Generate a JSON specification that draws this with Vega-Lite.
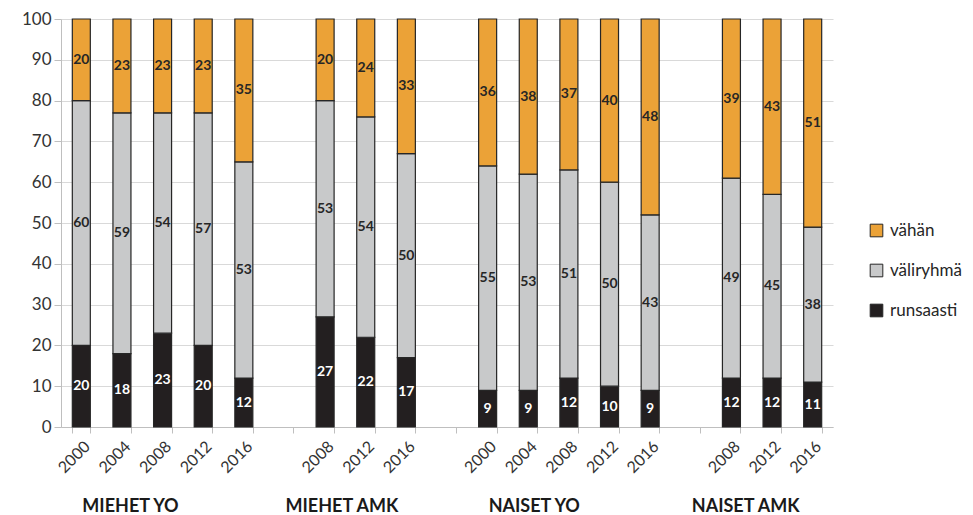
{
  "$schema": "https://vega.github.io/schema/vega-lite/v6.json",
  "width": 772,
  "height": 408,
  "autosize": {"type": "none"},
  "padding": {"left": 61, "top": 19, "right": 140, "bottom": 88},
  "background": "white",
  "config": {"font": "Lato", "view": {"stroke": null}},
  "data": {"values": [
    {"bar": "MIEHET YO 2000", "cat": "runsaasti", "v": 20}, {"bar": "MIEHET YO 2000", "cat": "väliryhmä", "v": 60}, {"bar": "MIEHET YO 2000", "cat": "vähän", "v": 20},
    {"bar": "MIEHET YO 2004", "cat": "runsaasti", "v": 18}, {"bar": "MIEHET YO 2004", "cat": "väliryhmä", "v": 59}, {"bar": "MIEHET YO 2004", "cat": "vähän", "v": 23},
    {"bar": "MIEHET YO 2008", "cat": "runsaasti", "v": 23}, {"bar": "MIEHET YO 2008", "cat": "väliryhmä", "v": 54}, {"bar": "MIEHET YO 2008", "cat": "vähän", "v": 23},
    {"bar": "MIEHET YO 2012", "cat": "runsaasti", "v": 20}, {"bar": "MIEHET YO 2012", "cat": "väliryhmä", "v": 57}, {"bar": "MIEHET YO 2012", "cat": "vähän", "v": 23},
    {"bar": "MIEHET YO 2016", "cat": "runsaasti", "v": 12}, {"bar": "MIEHET YO 2016", "cat": "väliryhmä", "v": 53}, {"bar": "MIEHET YO 2016", "cat": "vähän", "v": 35},
    {"bar": "MIEHET AMK 2008", "cat": "runsaasti", "v": 27}, {"bar": "MIEHET AMK 2008", "cat": "väliryhmä", "v": 53}, {"bar": "MIEHET AMK 2008", "cat": "vähän", "v": 20},
    {"bar": "MIEHET AMK 2012", "cat": "runsaasti", "v": 22}, {"bar": "MIEHET AMK 2012", "cat": "väliryhmä", "v": 54}, {"bar": "MIEHET AMK 2012", "cat": "vähän", "v": 24},
    {"bar": "MIEHET AMK 2016", "cat": "runsaasti", "v": 17}, {"bar": "MIEHET AMK 2016", "cat": "väliryhmä", "v": 50}, {"bar": "MIEHET AMK 2016", "cat": "vähän", "v": 33},
    {"bar": "NAISET YO 2000", "cat": "runsaasti", "v": 9}, {"bar": "NAISET YO 2000", "cat": "väliryhmä", "v": 55}, {"bar": "NAISET YO 2000", "cat": "vähän", "v": 36},
    {"bar": "NAISET YO 2004", "cat": "runsaasti", "v": 9}, {"bar": "NAISET YO 2004", "cat": "väliryhmä", "v": 53}, {"bar": "NAISET YO 2004", "cat": "vähän", "v": 38},
    {"bar": "NAISET YO 2008", "cat": "runsaasti", "v": 12}, {"bar": "NAISET YO 2008", "cat": "väliryhmä", "v": 51}, {"bar": "NAISET YO 2008", "cat": "vähän", "v": 37},
    {"bar": "NAISET YO 2012", "cat": "runsaasti", "v": 10}, {"bar": "NAISET YO 2012", "cat": "väliryhmä", "v": 50}, {"bar": "NAISET YO 2012", "cat": "vähän", "v": 40},
    {"bar": "NAISET YO 2016", "cat": "runsaasti", "v": 9}, {"bar": "NAISET YO 2016", "cat": "väliryhmä", "v": 43}, {"bar": "NAISET YO 2016", "cat": "vähän", "v": 48},
    {"bar": "NAISET AMK 2008", "cat": "runsaasti", "v": 12}, {"bar": "NAISET AMK 2008", "cat": "väliryhmä", "v": 49}, {"bar": "NAISET AMK 2008", "cat": "vähän", "v": 39},
    {"bar": "NAISET AMK 2012", "cat": "runsaasti", "v": 12}, {"bar": "NAISET AMK 2012", "cat": "väliryhmä", "v": 45}, {"bar": "NAISET AMK 2012", "cat": "vähän", "v": 43},
    {"bar": "NAISET AMK 2016", "cat": "runsaasti", "v": 11}, {"bar": "NAISET AMK 2016", "cat": "väliryhmä", "v": 38}, {"bar": "NAISET AMK 2016", "cat": "vähän", "v": 51}
  ]},
  "transform": [{"window": [{"op": "row_number", "as": "ord"}], "groupby": ["bar"]}],
  "layer": [
    {
      "mark": {"type": "bar", "stroke": "#262626", "strokeWidth": 1.2},
      "encoding": {
        "x": {
          "field": "bar", "type": "nominal",
          "scale": {"domain": ["MIEHET YO 2000", "MIEHET YO 2004", "MIEHET YO 2008", "MIEHET YO 2012", "MIEHET YO 2016", "gap1", "MIEHET AMK 2008", "MIEHET AMK 2012", "MIEHET AMK 2016", "gap2", "NAISET YO 2000", "NAISET YO 2004", "NAISET YO 2008", "NAISET YO 2012", "NAISET YO 2016", "gap3", "NAISET AMK 2008", "NAISET AMK 2012", "NAISET AMK 2016"], "paddingInner": 0.557, "paddingOuter": 0.2785},
          "axis": {"title": null, "orient": "bottom", "labelExpr": "isString(datum.value) && indexof(datum.value, 'gap') < 0 ? slice(datum.value, -4) : ''", "labelAngle": -45, "labelFontSize": 16, "labelColor": "#333333", "tickBand": "extent", "tickSize": 6, "domainColor": "#bfbfbf", "tickColor": "#bfbfbf", "labelPadding": 5, "labelOverlap": false, "grid": false}
        },
        "y": {
          "field": "v", "type": "quantitative", "stack": "zero",
          "scale": {"domain": [0, 100]},
          "axis": {"title": null, "values": [0, 10, 20, 30, 40, 50, 60, 70, 80, 90, 100], "grid": true, "gridColor": "#d9d9d9", "domainColor": "#bfbfbf", "tickColor": "#bfbfbf", "tickSize": 7, "labelFontSize": 17, "labelColor": "#333333", "labelPadding": 3}
        },
        "color": {
          "field": "cat", "type": "nominal",
          "scale": {"domain": ["vähän", "väliryhmä", "runsaasti"], "range": ["#EBA237", "#C8C9CA", "#231F20"]},
          "legend": {"title": null, "orient": "none", "legendX": 807, "legendY": 203, "padding": 0, "symbolType": "square", "symbolSize": 160, "symbolStrokeColor": "#262626", "symbolStrokeWidth": 1, "labelFontSize": 17, "labelColor": "#262626", "rowPadding": 22, "labelOffset": 5}
        },
        "order": {"field": "ord", "type": "quantitative"}
      }
    },
    {
      "mark": {"type": "text", "fontWeight": "bold", "fontSize": 14},
      "encoding": {
        "x": {
          "field": "bar", "type": "nominal",
          "scale": {"domain": ["MIEHET YO 2000", "MIEHET YO 2004", "MIEHET YO 2008", "MIEHET YO 2012", "MIEHET YO 2016", "gap1", "MIEHET AMK 2008", "MIEHET AMK 2012", "MIEHET AMK 2016", "gap2", "NAISET YO 2000", "NAISET YO 2004", "NAISET YO 2008", "NAISET YO 2012", "NAISET YO 2016", "gap3", "NAISET AMK 2008", "NAISET AMK 2012", "NAISET AMK 2016"], "paddingInner": 0.557, "paddingOuter": 0.2785},
          "axis": {"title": null, "orient": "bottom", "offset": 61, "domain": false, "ticks": false, "grid": false, "labelAngle": 0, "labelAlign": "left", "labelBaseline": "top", "labelPadding": 9, "labelFontSize": 18, "labelFontWeight": "bold", "labelColor": "#1a1a1a", "labelOverlap": false, "labelOffset": 1,
            "labelExpr": "datum.value === 'MIEHET YO 2000' ? 'MIEHET YO' : datum.value === 'gap1' ? 'MIEHET AMK' : datum.value === 'NAISET YO 2000' ? 'NAISET YO' : datum.value === 'gap3' ? 'NAISET AMK' : ''"}
        },
        "y": {"field": "v", "type": "quantitative", "stack": "zero", "bandPosition": 0.5},
        "detail": {"field": "cat"},
        "order": {"field": "ord", "type": "quantitative"},
        "text": {"field": "v", "type": "quantitative"},
        "color": {"condition": {"test": "datum.cat === 'runsaasti'", "value": "#ffffff"}, "value": "#262626"}
      }
    }
  ],
  "resolve": {"axis": {"x": "independent"}}
}
